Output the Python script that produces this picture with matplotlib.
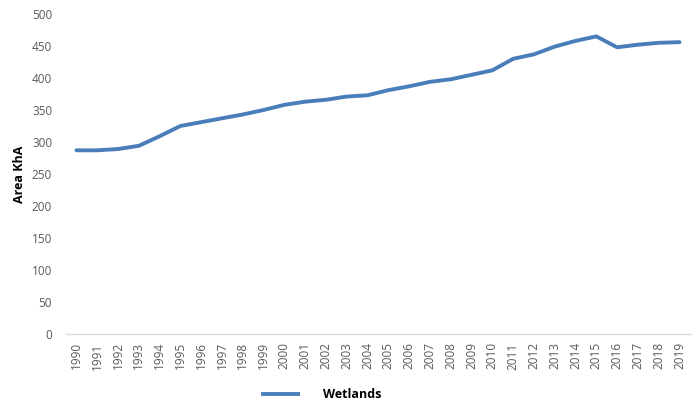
"""Wetlands area time series, 1990-2019."""

import matplotlib

matplotlib.use("Agg")
import matplotlib.pyplot as plt  # noqa: E402
from matplotlib.lines import Line2D  # noqa: E402

YEARS = [str(y) for y in range(1990, 2020)]
WETLANDS_KHA = [
    287, 287, 289, 294, 309, 325, 331, 337, 343, 350,
    358, 363, 366, 371, 373, 381, 387, 394, 398, 405,
    412, 430, 437, 449, 458, 465, 448, 452, 455, 456,
]
Y_TICKS = list(range(0, 501, 50))

LINE_COLOR = "#4a7ebb"
TEXT_COLOR = "#595959"

plt.rcParams["font.family"] = ["Open Sans", "DejaVu Sans"]

fig = plt.figure(figsize=(6.92, 4.07), dpi=100)
ax = fig.add_axes([0.0954, 0.1794, 0.9046, 0.7862])

x = list(range(len(YEARS)))
ax.plot(x, WETLANDS_KHA, color=LINE_COLOR, linewidth=2.8, solid_capstyle="round")

ax.set_xlim(-0.5, len(YEARS) - 0.4)
ax.set_ylim(0, 500)
ax.set_yticks(Y_TICKS)
ax.set_xticks(x)
ax.set_xticklabels(YEARS, rotation=90)
ax.tick_params(axis="both", length=0, colors=TEXT_COLOR, labelsize=8.5)
ax.tick_params(axis="y", pad=10)
ax.tick_params(axis="x", pad=6)

for side in ("top", "right", "left"):
    ax.spines[side].set_visible(False)
ax.spines["bottom"].set_color("#d9d9d9")
ax.spines["bottom"].set_linewidth(1.0)

ax.set_ylabel("Area KhA", fontsize=9, fontweight="bold", color="black", labelpad=4)

handle = Line2D([], [], color=LINE_COLOR, linewidth=2.8)
fig.legend(
    [handle],
    ["Wetlands"],
    loc="center",
    bbox_to_anchor=(0.465, 0.03),
    frameon=False,
    handlelength=2.8,
    handletextpad=2.0,
    prop={"size": 9, "weight": "bold"},
)

fig.savefig("out.png", dpi=100)
